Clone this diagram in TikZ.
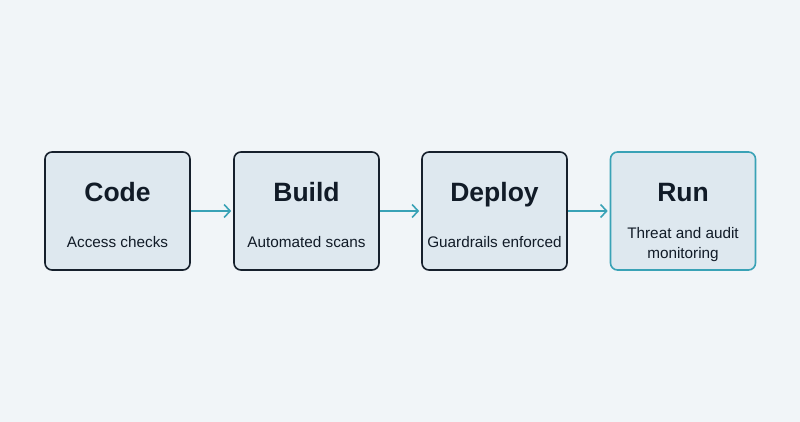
\documentclass[tikz,border=0pt]{standalone}
\usepackage{fontspec}
\setmainfont{Liberation Sans}
\usetikzlibrary{arrows.meta,positioning}
\definecolor{bgc}{HTML}{F1F5F8}
\definecolor{boxfill}{HTML}{DEE8EF}
\definecolor{boxline}{HTML}{16202C}
\definecolor{teal}{HTML}{39A2B6}
\definecolor{txt}{HTML}{111B27}
\begin{document}
\begin{tikzpicture}[x=1pt,y=-1pt,
  stage/.style={draw=boxline, line width=1.6pt, fill=boxfill, rounded corners=7pt,
    minimum width=145pt, minimum height=118pt, inner sep=0pt},
  ttl/.style={font=\bfseries\fontsize{26.5}{30}\selectfont, text=txt, anchor=base, inner sep=0pt},
  sub/.style={font=\fontsize{15.3}{20}\selectfont, text=txt, align=center, anchor=base, inner sep=0pt},
  conn/.style={draw=teal, line width=1.6pt, -{Straight Barb[length=6pt,width=13pt,line width=1.6pt]}}]
\fill[bgc] (0,0) rectangle (800,422);
\useasboundingbox (0,0) rectangle (800,422);
\node[stage] (code) at (117.5,211) {};
\node[stage] (build) at (306.5,211) {};
\node[stage] (deploy) at (494.5,211) {};
\node[stage, draw=teal] (run) at (683,211) {};
\node[ttl] (codet) at (117.5,201) {Code};
\node[ttl] (buildt) at (306.5,201) {Build};
\node[ttl] (deployt) at (494.5,201) {Deploy};
\node[ttl] (runt) at (683,201) {Run};
\node[sub] (codes) at (117.5,247) {Access checks};
\node[sub] (builds) at (306.5,247) {Automated scans};
\node[sub] (deploys) at (494.5,247) {Guardrails enforced};
\node[sub, anchor=center] (runs) at (683,244.5) {Threat and audit\\monitoring};
\draw[conn] (code.east) -- ([xshift=-2pt]build.west);
\draw[conn] (build.east) -- ([xshift=-2pt]deploy.west);
\draw[conn] (deploy.east) -- ([xshift=-2pt]run.west);
\end{tikzpicture}
\end{document}
